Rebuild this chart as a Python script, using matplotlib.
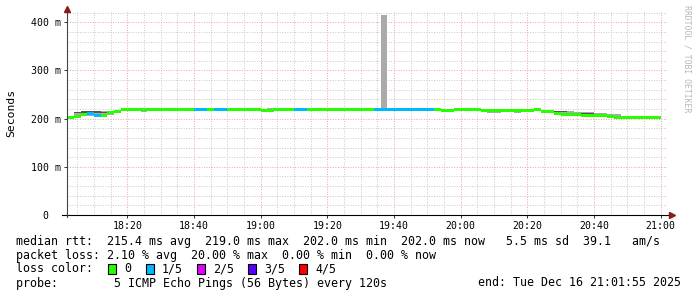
import matplotlib
matplotlib.use("Agg")
import matplotlib.pyplot as plt
import numpy as np
from matplotlib.patches import Rectangle
from matplotlib.ticker import MultipleLocator

# step start, minutes after 18:00 (120 s steps)
step_min = np.arange(2, 180, 2)

median_ms = [
    202, 204, 208, 211, 206, 207, 213, 215, 218, 218,
    219, 219, 219, 219, 219, 219, 219, 219, 219, 219,
    219, 219, 219, 219, 219, 219, 219, 219, 219, 217,
    217, 219, 219, 219, 219, 219, 219, 219, 219, 219,
    219, 219, 219, 219, 219, 219, 219, 219, 219, 219,
    219, 219, 219, 219, 219, 219, 216, 216, 219, 218,
    218, 218, 217, 216, 216, 216, 216, 216, 217, 217,
    218, 215, 215, 211, 209, 208, 208, 206, 206, 207,
    207, 205, 203, 202, 202, 202, 202, 202, 202,
]
lost_pings = [
    0, 0, 0, 1, 1, 0, 0, 0, 0, 0,
    0, 0, 0, 0, 0, 0, 0, 0, 0, 1,
    1, 0, 1, 1, 0, 0, 0, 0, 0, 0,
    0, 0, 0, 0, 1, 1, 0, 0, 0, 0,
    0, 0, 0, 0, 0, 0, 1, 1, 1, 1,
    1, 1, 1, 1, 1, 0, 0, 0, 0, 0,
    0, 0, 0, 0, 0, 0, 0, 0, 0, 0,
    0, 0, 0, 0, 0, 0, 0, 0, 0, 0,
    0, 0, 0, 0, 0, 0, 0, 0, 0,
]
smoke_lo = [
    201, 203, 205, 206, 205, 205, 208, 213, 216, 217,
    217, 214, 215, 218, 218, 218, 218, 215, 218, 218,
    218, 218, 218, 218, 218, 218, 218, 218, 218, 216,
    216, 218, 218, 218, 218, 218, 218, 218, 218, 218,
    218, 218, 218, 218, 218, 218, 218, 218, 218, 218,
    218, 218, 218, 218, 218, 218, 215, 215, 218, 217,
    217, 216, 215, 211, 212, 213, 214, 212, 215, 216,
    217, 212, 212, 208, 205, 205, 206, 205, 205, 203,
    203, 204, 202, 201, 201, 201, 201, 201, 201,
]
smoke_hi = [
    204, 213, 216, 216, 215, 215, 216, 217, 219, 219,
    220, 220, 220, 220, 220, 220, 220, 220, 220, 220,
    220, 220, 220, 220, 220, 220, 220, 220, 220, 219,
    222, 222, 220, 220, 220, 220, 220, 220, 220, 220,
    220, 220, 220, 220, 220, 220, 220, 416, 220, 220,
    220, 220, 220, 220, 220, 220, 218, 218, 220, 219,
    219, 219, 218, 218, 218, 218, 218, 219, 218, 218,
    219, 217, 217, 216, 215, 215, 214, 213, 213, 212,
    212, 210, 209, 203, 203, 203, 203, 203, 203,
]
# darker smoke blocks
dark_min = [4, 6, 8, 10, 12, 148, 150, 156, 158, 160, 162]
dark_lo = [211, 212, 213, 212, 212, 214, 213, 209, 209, 203, 203]
dark_hi = [213, 215, 216, 215, 214, 216, 215, 211, 211, 205, 205]

loss_colors = ['#26ff00', '#00b8ff', '#e000ff', '#5500ff', '#ff0000']
loss_labels = ['0', '1/5', '2/5', '3/5', '4/5']

xtick_min = [20, 40, 60, 80, 100, 120, 140, 160, 180]
xtick_labels = ['18:20', '18:40', '19:00', '19:20', '19:40',
                '20:00', '20:20', '20:40', '21:00']
ytick_ms = [0, 100, 200, 300, 400]
ytick_labels = ['0  ', '100 m', '200 m', '300 m', '400 m']

W, H = 697, 297
MONO = 'DejaVu Sans Mono'
plt.rcParams['font.family'] = MONO


def fx(px):
    return px / W


def fy(py):
    return 1 - py / H


fig = plt.figure(figsize=(W / 100, H / 100), dpi=100)
fig.patch.set_facecolor('white')
ax = fig.add_axes([fx(67), fy(215), 600 / W, (215 - 12.3) / H])
ax.set_xlim(1.917, 181.917)
ax.set_ylim(0, 420.6)

# smoke
lo = np.array(smoke_lo)
hi = np.array(smoke_hi)
ax.bar(step_min, hi - lo, bottom=lo, width=2, align='edge',
       color='#aaaaaa', linewidth=0, zorder=2)
ax.bar(dark_min, np.array(dark_hi) - np.array(dark_lo), bottom=dark_lo,
       width=2, align='edge', color='#555555', linewidth=0, zorder=2)

# median, coloured by loss
med = np.array(median_ms)
cols = [loss_colors[n] for n in lost_pings]
ax.bar(step_min, 6, bottom=med - 3, width=2, align='edge',
       color=cols, linewidth=0, zorder=3)

# grid
ax.set_xticks(xtick_min)
ax.set_xticklabels(xtick_labels)
ax.xaxis.set_minor_locator(MultipleLocator(5))
ax.set_yticks(ytick_ms)
ax.set_yticklabels(ytick_labels)
ax.yaxis.set_minor_locator(MultipleLocator(20))
ax.grid(which='minor', color='#c8c8c8', linestyle=(0, (1, 1.6)), lw=0.7)
ax.grid(which='major', color='#f0a0a0', linestyle=(0, (1, 1.6)), lw=0.7)
ax.set_axisbelow(True)
for s in ax.spines.values():
    s.set_visible(False)
ax.tick_params(which='major', length=2, width=0.7, color='#333333',
               labelsize=7.1, pad=2.5)
ax.tick_params(which='minor', length=0)

# axis lines with arrows
ax.plot([-0.009, 1.006], [0, 0], transform=ax.transAxes, color='black',
        lw=0.8, clip_on=False, zorder=5)
ax.plot([1.008], [0], marker='>', markersize=4, color='#8b1a1a',
        transform=ax.transAxes, clip_on=False, zorder=6)
ax.plot([0, 0], [-0.012, 1.0], transform=ax.transAxes, color='#444444',
        lw=0.8, clip_on=False, zorder=5)
ax.plot([0], [1.015], marker='^', markersize=4, color='#8b1a1a',
        transform=ax.transAxes, clip_on=False, zorder=6)

fig.text(fx(11), fy(113), 'Seconds', rotation=90, ha='center', va='center',
         fontsize=8.2)
fig.text(fx(687), fy(5), 'RRDTOOL / TOBI OETIKER', rotation=270,
         ha='center', va='top', fontsize=5.9, color='#b8b8b8')

# legend lines
fs = 8.4
fig.text(fx(16), fy(241), 'median rtt:  215.4 ms avg  219.0 ms max  202.0 ms min'
         '  202.0 ms now   5.5 ms sd  39.1   am/s', va='center', fontsize=fs)
fig.text(fx(16), fy(255), 'packet loss: 2.10 % avg  20.00 % max  0.00 % min'
         '  0.00 % now', va='center', fontsize=fs)
fig.text(fx(16), fy(269), 'loss color:', va='center', fontsize=fs)
box_x = [108, 146, 197, 248, 299]
for bx, c, lab in zip(box_x, loss_colors, loss_labels):
    fig.patches.append(Rectangle((fx(bx), fy(274)), 8 / W, 10 / H,
                                 transform=fig.transFigure, facecolor=c,
                                 edgecolor='black', lw=0.8))
    fig.text(fx(bx + 16), fy(269), lab, va='center', fontsize=fs)
fig.text(fx(16), fy(283), 'probe:        5 ICMP Echo Pings (56 Bytes) every 120s',
         va='center', fontsize=fs)
fig.text(fx(681), fy(283), 'end: Tue Dec 16 21:01:55 2025', ha='right',
         va='center', fontsize=fs)

fig.savefig('out.png', dpi=100, facecolor='white')
